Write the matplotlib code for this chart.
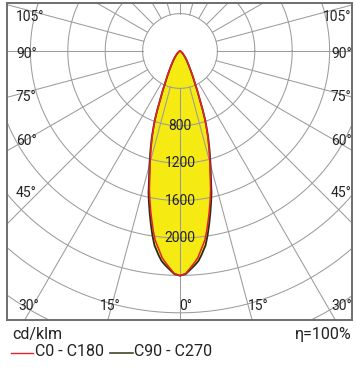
import numpy as np
import matplotlib.pyplot as plt
from matplotlib.lines import Line2D

plt.rcParams['font.family'] = ['Roboto', 'DejaVu Sans']

# gamma angle (deg from nadir) and intensity in cd/klm, one half of each plane
gamma = [0, 1.5, 3, 4, 5, 6, 7.5, 8.5, 9.5, 10.5, 11.5, 12.5, 13.5, 15, 16.5, 18, 19,
         20, 21, 22, 23.5, 25, 27, 29, 32, 36, 40, 43, 50, 60, 70, 80, 90]
c0_c180 = [2403, 2380, 2310, 2265, 2215, 2140, 2039, 1940, 1833, 1728, 1620, 1515,
           1385, 1235, 1095, 965, 870, 785, 680, 580, 470, 380, 300, 236, 175, 123,
           85, 63, 35, 15, 6, 2, 0]
c90_c270 = [2403, 2385, 2330, 2295, 2255, 2195, 2095, 1995, 1885, 1775, 1665, 1555,
            1420, 1262, 1115, 980, 880, 790, 682, 578, 465, 372, 292, 228, 168, 117,
            80, 59, 32, 14, 5, 2, 0]

ring_values = [400, 800, 1200, 1600, 2000, 2400, 2800, 3200]
ring_labels = [800, 1200, 1600, 2000]
spoke_step = 15

# angle labels: text, x, y (axes fraction), alignment
angle_labels = [
    ("105°", 0.026, 0.956, 'left'), ("90°", 0.026, 0.839, 'left'),
    ("75°", 0.026, 0.703, 'left'), ("60°", 0.026, 0.564, 'left'),
    ("45°", 0.026, 0.400, 'left'), ("30°", 0.032, 0.043, 'left'),
    ("15°", 0.270, 0.043, 'left'), ("0°", 0.499, 0.043, 'left'),
    ("15°", 0.699, 0.043, 'left'), ("30°", 0.999, 0.043, 'right'),
    ("45°", 0.999, 0.400, 'right'), ("60°", 0.999, 0.564, 'right'),
    ("75°", 0.999, 0.703, 'right'), ("90°", 0.999, 0.839, 'right'),
    ("105°", 0.999, 0.956, 'right'),
]

grid_col = '#9c9c9c'
red = '#e3232b'
dark = '#2a2a1a'
yellow = '#f5ea12'
txt = '#222222'

W, H = 356, 368
fig = plt.figure(figsize=(W / 100, H / 100), dpi=100)
ax = fig.add_axes([7 / W, (H - 319.5) / H, 345 / W, 316.5 / H])

k = 1 / 0.0935  # cd/klm per pixel
ax.set_xlim((7 - 180) * k, (352 - 180) * k)
ax.set_ylim((51 - 319.5) * k, (51 - 3) * k)


def curve(vals):
    g = np.radians(np.array(gamma, dtype=float))
    v = np.array(vals, dtype=float)
    g = np.concatenate([-g[::-1], g[1:]])
    v = np.concatenate([v[::-1], v[1:]])
    return v * np.sin(g), -v * np.cos(g)


x0, y0 = curve(c0_c180)
x9, y9 = curve(c90_c270)
ax.fill(x9, y9, color=yellow, lw=0, zorder=1)
ax.fill(x0, y0, color=yellow, lw=0, zorder=1)

# grid
t = np.linspace(0, 2 * np.pi, 400)
for r in ring_values:
    ax.plot(r * np.cos(t), r * np.sin(t), color=grid_col, lw=0.75, zorder=2)
for a in range(0, 360, spoke_step):
    ar = np.radians(a)
    ax.plot([400 * np.sin(ar), 5000 * np.sin(ar)], [-400 * np.cos(ar), -5000 * np.cos(ar)],
            color=grid_col, lw=0.75, zorder=2)

ax.plot(x9, y9, color=dark, lw=1.3, zorder=3)
ax.plot(x0, y0, color=red, lw=1.15, zorder=4)

for v in ring_labels:
    ax.text(0, -v, str(v), ha='center', va='center', fontsize=10, color=txt, zorder=5)

for s, fx, fy, ha in angle_labels:
    ax.text(fx, fy, s, transform=ax.transAxes, ha=ha, va='center', fontsize=10,
            color=txt, zorder=5)

ax.set_xticks([])
ax.set_yticks([])
for sp in ax.spines.values():
    sp.set_color('#6e6e6e')
    sp.set_linewidth(1.4)

fig.text(12 / W, 1 - 334 / H, "cd/klm", ha='left', va='center', fontsize=11.5, color=txt)
fig.text(352 / W, 1 - 334 / H, "η=100%", ha='right', va='center', fontsize=11.5, color=txt)

ly = 1 - 352.5 / H
fig.add_artist(Line2D([11 / W, 33 / W], [ly, ly], color=red, lw=1.0))
fig.text(35 / W, 1 - 351.5 / H, "C0 - C180", ha='left', va='center', fontsize=11.5, color=txt)
fig.add_artist(Line2D([110 / W, 133 / W], [ly, ly], color='#45442a', lw=1.2))
fig.text(134 / W, 1 - 351.5 / H, "C90 - C270", ha='left', va='center', fontsize=11.5, color=txt)

fig.savefig('out.png', dpi=100)
